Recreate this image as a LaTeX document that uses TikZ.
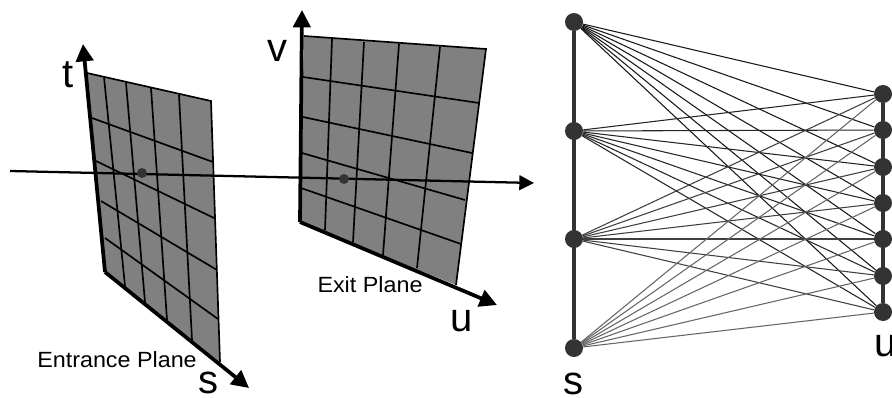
\documentclass[tikz,border=0pt]{standalone}
\usepackage{fontspec}
\setmainfont{Liberation Sans}
\usetikzlibrary{arrows.meta}
\definecolor{planegray}{HTML}{808080}
\definecolor{dotgray}{HTML}{333333}
\begin{document}
\begin{tikzpicture}[x=0.75pt,y=-0.75pt,
  axis/.style={line width=2.8pt,black},
  grid/.style={line width=1.25pt,black},
  big/.style={font=\fontsize{30}{30}\selectfont,inner sep=0pt},
  planelabel/.style={font=\fontsize{16.5}{16.5}\selectfont,inner sep=0pt,xscale=1.06,transform shape},
  dot/.style={circle,fill=dotgray,inner sep=0pt,minimum size=7.5pt},
  pt/.style={circle,fill=dotgray,inner sep=0pt,minimum size=13.5pt},
  bar/.style={line width=2.8pt,dotgray}]
\useasboundingbox (0,0) rectangle (892,397);
% entrance plane
\fill[planegray] (87,73)--(211,101)--(220,362)--(105,272)--cycle;
\draw[grid] (87,73)--(211,101)--(220,362);
\foreach \xa/\ya/\xb/\yb in {104/77/125/286,126/83/145/302,151/88/167/320,179/95/192/340}
  \draw[grid] (\xa,\ya)--(\xb,\yb);
\foreach \xa/\ya/\xb/\yb in {92/118/213/162,96/161/214/218,101/201/217/270,105/238/218/319}
  \draw[grid] (\xa,\ya)--(\xb,\yb);
% exit plane
\fill[planegray] (304,36)--(486,49)--(456,285)--(300,222)--cycle;
\draw[grid] (304,36)--(486,49)--(456,285);
\foreach \xa/\ya/\xb/\yb in {332/39/325/230,364/42/353/242,399/44/383/255,440/47/417/268}
  \draw[grid] (\xa,\ya)--(\xb,\yb);
\foreach \xa/\ya/\xb/\yb in {303/77/479/103,303/117/472/153,302/153/465/200,301/188/461/244}
  \draw[grid] (\xa,\ya)--(\xb,\yb);
% axes
\coordinate (o1) at (105,272);
\coordinate (t1) at (83,44);
\coordinate (s1) at (249,388);
\coordinate (o2) at (300,222);
\coordinate (v2) at (302,10);
\coordinate (u2) at (497,305);
\draw[axis,-{Triangle[length=13pt,width=13pt]}] (o1)--(t1);
\draw[axis,-{Triangle[length=13pt,width=13pt]}] (o1)--(s1);
\draw[axis,-{Triangle[length=13pt,width=13pt]}] (o2)--(v2);
\draw[axis,-{Triangle[length=13pt,width=13pt]}] (o2)--(u2);
% ray
\coordinate (r0) at (10,171);
\coordinate (r1) at (534,183);
\draw[line width=1.7pt,-{Triangle[length=11pt,width=11pt]}] (r0)--(r1);
\node[dot] (d1) at (142,173) {};
\node[dot] (d2) at (344,179) {};
% labels
\node[big] (lt) at (68,75) {t};
\node[big] (lv) at (277,51) {v};
\node[big] (ls) at (208,383) {s};
\node[big] (lu) at (462,321) {u};
\node[planelabel] (le) at (117,360) {Entrance Plane};
\node[planelabel] (lx) at (370,285) {Exit Plane};
% two plane graph
\foreach \i/\y in {1/22,2/131,3/239,4/348}
  \node[pt] (a\i) at (574,\y) {};
\foreach \i/\y in {1/94,2/130,3/167,4/203,5/239,6/276,7/312}
  \node[pt] (b\i) at (883,\y) {};
\draw[bar] (a1)--(a4);
\draw[bar] (b1)--(b7);
\foreach \i/\c in {1/black!90,2/black!85,3/black!75,4/black!60}
  \foreach \j in {1,...,7}
    \draw[line width=0.8pt,\c] (a\i)--(b\j);
\node[big] (ls2) at (573,384) {s};
\node[big] (lu2) at (886,346) {u};
\end{tikzpicture}
\end{document}
